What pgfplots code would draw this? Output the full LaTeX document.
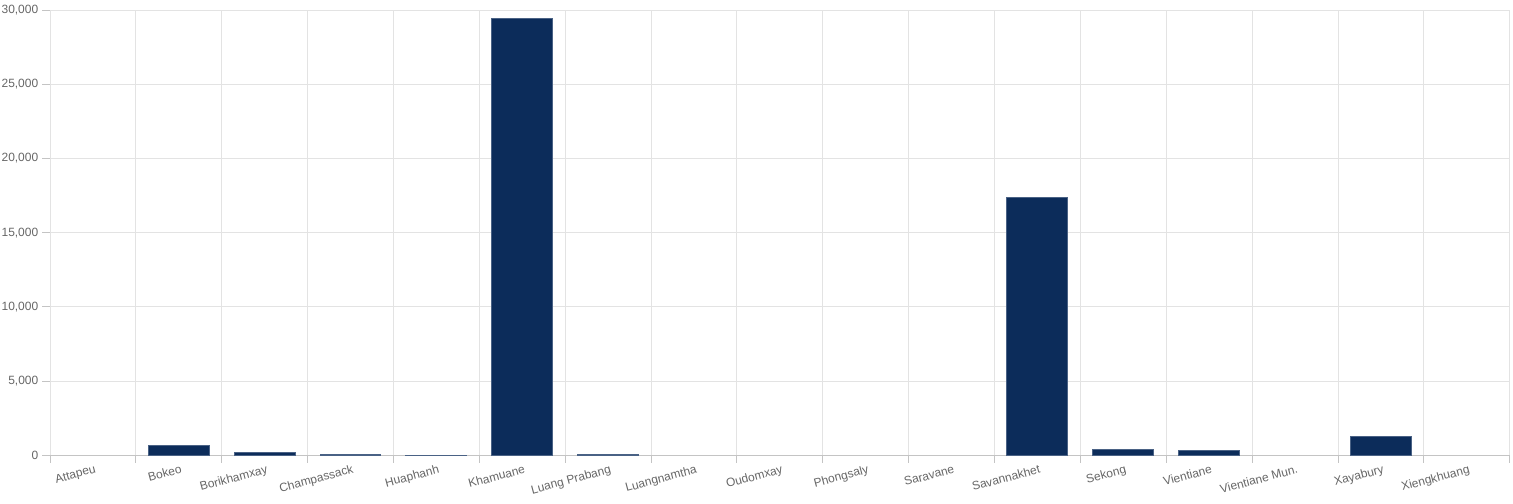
\documentclass[border=0pt]{standalone}
\usepackage{pgfplots}
\pgfplotsset{compat=1.18}
\usepackage{fontspec}
\setmainfont{Liberation Sans}
\definecolor{barfill}{HTML}{0C2C5A}
\definecolor{barline}{HTML}{4A6285}
\definecolor{gridc}{HTML}{E3E3E3}
\definecolor{axisc}{HTML}{C4C4C4}
\definecolor{labc}{HTML}{666666}
\begin{document}
\begin{tikzpicture}
\begin{axis}[
  scale only axis, width=1462pt, height=446pt,
  xmin=-0.5, xmax=16.5, ymin=0, ymax=30000,
  axis line style={draw=gridc, line width=0.8pt},
  xtick pos=bottom, ytick pos=left,
  ytick={0,5000,...,30000},
  xtick={-0.5,0.5,...,16.5},
  xticklabels={},
  xmajorgrids, ymajorgrids,
  grid style={draw=gridc, line width=0.8pt},
  scaled y ticks=false,
  /pgf/number format/1000 sep={,},
  /pgf/number format/assume math mode=true,
  tick align=outside,
  major tick length=7.5pt,
  tick style={draw=axisc, line width=0.8pt},
  tick label style={font=\fontsize{12}{14}\selectfont, text=labc},
  yticklabel style={inner sep=0pt, xshift=-4pt},
  extra x ticks={0,...,16},
  extra x tick labels={Attapeu,Bokeo,Borikhamxay,Champassack,Huaphanh,Khamuane,Luang Prabang,Luangnamtha,Oudomxay,Phongsaly,Saravane,Savannakhet,Sekong,Vientiane,Vientiane Mun.,Xayabury,Xiengkhuang},
  extra x tick style={grid=none, major tick length=0pt, tick style={draw=none},
    xticklabel style={rotate=15, anchor=north east, inner sep=1pt, xshift=0pt, yshift=-8pt}},
  extra y ticks={0},
  extra y tick labels={},
  extra y tick style={grid=major, major tick length=0pt, grid style={draw=axisc, line width=1pt}},
  ybar, bar width=61pt,
]
\addplot[ybar, bar width=61pt, fill=barfill, draw=barline, line width=1pt] coordinates {
  (1,690) (2,160) (3,80) (4,20) (5,29450) (6,40) (11,17400) (12,420) (13,350) (15,1300)
};
\end{axis}
\path ([shift={(-50pt,-48pt)}]current axis.south west) rectangle ([shift={(1pt,10pt)}]current axis.north east);
\end{tikzpicture}
\end{document}
